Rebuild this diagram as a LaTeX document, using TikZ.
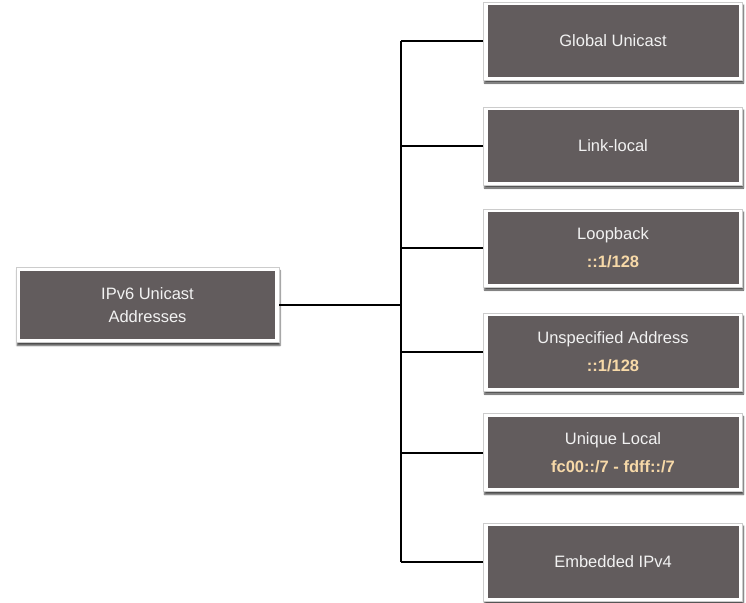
\documentclass[tikz,border=0pt]{standalone}
\usepackage{fontspec}
\setmainfont{Liberation Sans}
\usetikzlibrary{shadows.blur}
\definecolor{boxgray}{HTML}{625C5D}
\definecolor{peach}{HTML}{F7D9A8}
\definecolor{txtw}{HTML}{F2F2F2}
\begin{document}
\begin{tikzpicture}[x=1pt,y=1pt,
  box/.style={draw=black!20, line width=0.6pt, fill=white, text=txtw,
    align=center, inner sep=0pt,
    font=\fontsize{16.5}{23}\selectfont,
    path picture={\fill[boxgray]
      ([shift={(4pt,3.5pt)}]path picture bounding box.south west) rectangle
      ([shift={(-4pt,-3pt)}]path picture bounding box.north east);},
    blur shadow={shadow xshift=1pt, shadow yshift=-3pt, shadow blur steps=4,
      shadow blur radius=1.5pt, shadow opacity=70}},
  rbox/.style={box, minimum width=259pt, minimum height=78pt},
  lbox/.style={box, minimum width=263pt, minimum height=75pt},
  conn/.style={draw=black, line width=2pt},
  hl/.style={text=peach, font=\bfseries\fontsize{16.5}{23}\selectfont}]
\useasboundingbox (0,0) rectangle (746,-602);
\node[lbox] (L) at (147.5,-305) {IPv6 Unicast\\Addresses};
\node[rbox] (b1) at (613,-41) {Global Unicast};
\node[rbox] (b2) at (613,-146) {Link-local};
\node[rbox] (b3) at (613,-248) {Loopback\\[5pt]{\color{peach}\bfseries ::1/128}};
\node[rbox] (b4) at (613,-352) {Unspecified Address\\[5pt]{\color{peach}\bfseries ::1/128}};
\node[rbox] (b5) at (613,-452.5) {Unique Local\\[5pt]{\color{peach}\bfseries fc00::/7 - fdff::/7}};
\node[rbox] (b6) at (613,-562) {Embedded IPv4};
\coordinate (top) at (401,-41);
\coordinate (bot) at (401,-562);
\draw[conn] (top) -- (bot);
\draw[conn] (L.east) -- (L.east -| top);
\foreach \b in {b1,b2,b3,b4,b5,b6}{
  \draw[conn] (\b.west) -- (\b.west -| top);
}
\end{tikzpicture}
\end{document}
